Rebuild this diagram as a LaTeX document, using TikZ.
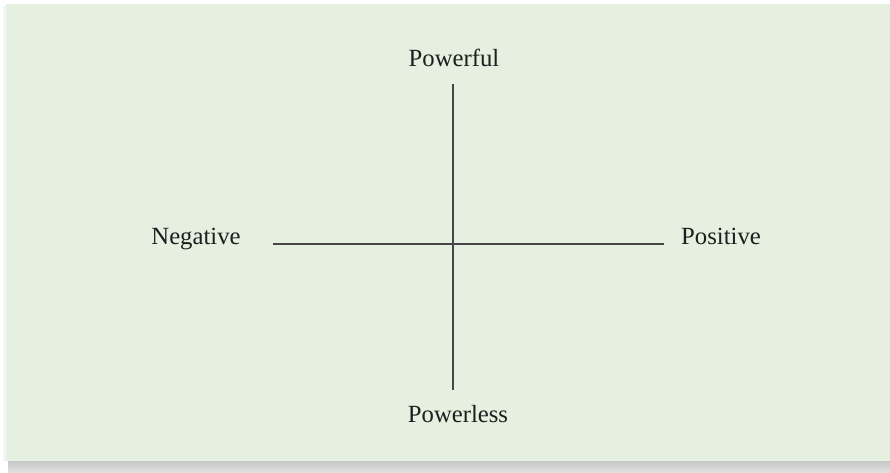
\documentclass[tikz,border=0pt]{standalone}
\usepackage{fontspec}
\setmainfont{Liberation Serif}
\definecolor{panel}{RGB}{229,240,224}
\definecolor{axis}{RGB}{70,70,70}
\definecolor{txt}{RGB}{30,30,30}
\begin{document}
\begin{tikzpicture}[x=1pt,y=-1pt,
  lbl/.style={anchor=base, text=txt, inner sep=0pt, font=\fontsize{24.7}{28}\selectfont},
  axisline/.style={draw=axis, line width=1.2pt}]
\useasboundingbox (0,0) rectangle (890,472);
\fill[white] (0,0) rectangle (890,472);
% shadow
\shade[top color=black!22, bottom color=black!12] (8,461) rectangle (890,472);
\fill[black!4] (3,6) rectangle (6,461);
% panel
\fill[panel] (6,4) rectangle (890,461);
% labels
\node[lbl] (top) at (454,66) {Powerful};
\node[lbl] (bot) at (458,422) {Powerless};
\node[lbl] (left) at (196,244) {Negative};
\node[lbl] (right) at (721,244) {Positive};
% axes
\coordinate (vt) at (453,84);
\coordinate (vb) at (453,390);
\coordinate (hl) at (273,244);
\coordinate (hr) at (664,244);
\draw[axisline] (vt) -- (vb);
\draw[axisline] (hl) -- (hr);
\end{tikzpicture}
\end{document}
